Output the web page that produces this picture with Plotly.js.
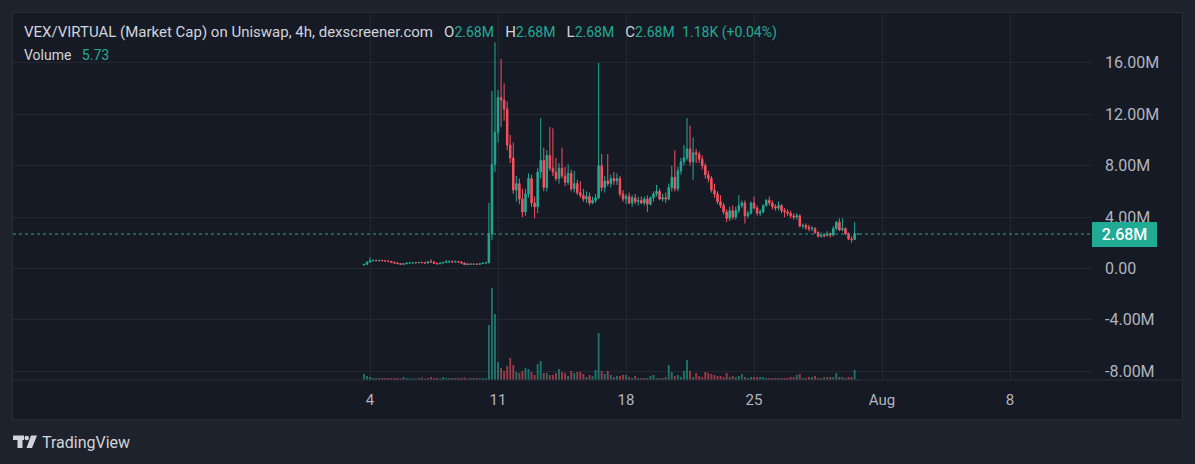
<!DOCTYPE html>
<html><head><meta charset="utf-8">
<script src="https://cdn.plot.ly/plotly-3.0.1.min.js"></script>
<style>html,body{margin:0;padding:0;background:#1E222D;overflow:hidden}#chart{width:1195px;height:464px}</style>
</head><body><div id="chart"></div>
<script>
// ---- data (market cap in millions, 4h candles) ----
const startTime = Date.UTC(2025, 6, 3, 16, 0, 0); // first candle 2025-07-03 16:00
const barHours = 4;

const open = [
0.27,0.32,0.50,0.60,0.62,0.60,0.63,0.60,0.58,0.55,
0.48,0.42,0.38,0.32,0.36,0.42,0.43,0.45,0.44,0.47,
0.45,0.42,0.52,0.50,0.40,0.36,0.42,0.47,0.50,0.52,
0.50,0.53,0.50,0.42,0.30,0.35,0.33,0.34,0.32,0.38,
0.42,0.45,2.70,8.10,10.6,13.3,13.1,12.4,9.60,8.60,
6.10,6.60,5.40,4.40,5.80,7.00,5.10,4.80,7.50,8.40,
6.30,8.80,7.80,7.50,7.00,7.80,7.20,6.70,7.40,6.20,
6.60,5.90,5.70,5.40,5.60,5.10,5.30,5.50,8.00,6.30,
6.80,6.60,7.00,6.80,7.00,5.80,5.40,5.60,5.10,5.50,
5.20,5.30,5.10,5.40,5.00,5.50,5.80,6.00,5.40,5.50,
5.40,6.30,7.10,6.20,7.60,8.30,8.60,9.30,8.30,9.00,
8.90,8.50,8.00,7.30,7.00,6.10,5.80,5.20,4.90,4.40,
3.90,4.50,4.00,4.50,4.90,5.10,4.10,4.30,5.10,4.70,
4.30,4.40,4.90,5.30,5.10,4.80,4.70,4.90,4.50,4.40,
4.30,4.10,4.00,4.10,3.30,3.35,3.20,3.10,3.12,2.80,
2.50,2.60,2.55,2.70,2.60,3.10,3.60,3.00,3.10,2.70,
2.30,2.25,2.679];
const high = [
0.35,0.55,0.85,0.70,0.68,0.66,0.66,0.64,0.62,0.58,
0.52,0.46,0.42,0.40,0.45,0.47,0.48,0.50,0.50,0.52,
0.50,0.55,0.72,0.56,0.45,0.44,0.50,0.66,0.62,0.64,
0.62,0.60,0.54,0.46,0.38,0.40,0.38,0.40,0.40,0.46,
0.50,5.10,13.8,17.6,13.9,16.3,14.4,13.0,10.4,9.80,
7.20,7.00,6.20,6.20,7.40,7.30,5.60,7.80,11.7,9.40,
9.20,11.0,10.9,8.60,8.20,9.40,7.90,8.10,7.70,7.60,
6.90,6.80,6.20,6.00,5.90,5.60,5.80,16.0,8.90,7.20,
8.90,7.30,7.50,7.40,7.20,6.10,5.80,5.90,5.70,5.80,
5.60,5.60,5.60,5.70,5.60,6.00,6.50,6.20,5.80,5.90,
6.60,8.00,9.20,7.90,8.60,9.60,11.7,11.1,10.2,9.30,
9.10,8.80,8.20,7.60,7.20,6.60,6.00,5.70,5.10,4.60,
4.80,4.90,4.80,5.70,5.30,5.30,4.50,5.20,5.60,4.90,
4.60,5.00,5.40,5.60,5.30,5.00,5.20,5.00,4.70,4.60,
4.50,4.30,4.30,4.20,3.50,3.50,3.40,3.30,3.20,2.90,
2.80,2.70,2.90,2.80,3.30,3.70,3.90,3.90,3.20,2.80,
2.50,3.60,2.69];
const low = [
0.25,0.30,0.45,0.55,0.58,0.56,0.58,0.55,0.52,0.45,
0.40,0.35,0.28,0.28,0.33,0.38,0.40,0.41,0.40,0.43,
0.40,0.40,0.48,0.38,0.33,0.34,0.40,0.44,0.46,0.48,
0.47,0.48,0.40,0.28,0.27,0.30,0.28,0.30,0.30,0.35,
0.38,0.40,2.20,7.50,9.80,11.0,11.5,9.20,8.20,5.80,
5.20,5.00,4.00,4.10,5.50,4.80,3.90,4.30,7.00,6.00,
6.00,7.60,7.20,6.80,6.60,7.00,6.40,6.50,6.00,5.90,
5.70,5.50,5.20,5.10,4.90,5.00,5.10,5.40,6.00,5.90,
6.40,6.30,6.50,6.50,5.60,5.20,5.00,5.00,4.80,5.00,
4.90,5.00,4.90,4.40,4.90,5.20,5.60,5.30,5.20,5.10,
5.30,6.00,6.00,6.00,7.30,8.00,8.40,8.00,6.90,8.20,
8.20,7.70,7.00,6.70,5.90,5.50,5.00,4.70,4.20,3.60,
3.70,3.80,3.80,4.30,4.70,3.50,3.90,4.20,4.60,4.10,
4.10,4.30,4.80,4.90,4.60,4.50,4.50,4.30,4.00,4.10,
3.90,3.80,3.80,3.20,3.10,3.00,2.90,2.90,2.70,2.40,
2.40,2.40,2.50,2.40,2.50,3.00,2.90,2.90,2.60,2.20,
2.00,2.20,2.67];
const close = [
0.32,0.50,0.60,0.62,0.60,0.63,0.60,0.58,0.55,0.48,
0.42,0.38,0.32,0.36,0.42,0.43,0.45,0.44,0.47,0.45,
0.42,0.52,0.50,0.40,0.36,0.42,0.47,0.50,0.52,0.50,
0.53,0.50,0.42,0.30,0.35,0.33,0.34,0.32,0.38,0.42,
0.45,2.70,8.10,10.6,13.3,13.1,12.4,9.60,8.60,6.10,
6.60,5.40,4.40,5.80,7.00,5.10,4.80,7.50,8.40,6.30,
8.80,7.80,7.50,7.00,7.80,7.20,6.70,7.40,6.20,6.60,
5.90,5.70,5.40,5.60,5.10,5.30,5.50,8.00,6.30,6.80,
6.60,7.00,6.80,7.00,5.80,5.40,5.60,5.10,5.50,5.20,
5.30,5.10,5.40,5.00,5.50,5.80,6.00,5.40,5.50,5.40,
6.30,7.10,6.20,7.60,8.30,8.60,9.30,8.30,9.00,8.90,
8.50,8.00,7.30,7.00,6.10,5.80,5.20,4.90,4.40,3.90,
4.50,4.00,4.50,4.90,5.10,4.10,4.30,5.10,4.70,4.30,
4.40,4.90,5.30,5.10,4.80,4.70,4.90,4.50,4.40,4.30,
4.10,4.00,4.10,3.30,3.35,3.20,3.10,3.12,2.80,2.50,
2.60,2.55,2.70,2.60,3.10,3.60,3.00,3.10,2.70,2.30,
2.25,2.679,2.68];
const volume = [
36,24,18,12,12,12,12,12,12,12,
12,12,9,18,12,9,9,9,12,15,
9,12,18,12,12,9,18,12,12,12,
12,12,12,15,9,12,12,12,12,12,
12,330,552,396,108,72,54,84,132,90,
48,42,54,72,66,48,30,96,114,42,
42,30,30,42,66,48,42,24,54,42,
48,48,36,18,30,24,60,282,54,36,
54,30,18,24,24,30,30,18,12,24,
12,12,12,12,24,30,12,12,12,18,
90,48,24,30,18,54,120,54,18,42,
24,18,48,42,36,30,24,24,18,42,
18,24,18,24,36,18,12,18,18,18,
18,18,12,12,12,12,12,12,12,12,
18,18,30,36,12,12,18,18,24,12,
12,18,18,18,18,42,18,18,12,18,
18,60,5.73];

const tickDates = ['2025-07-04','2025-07-11','2025-07-18','2025-07-25','2025-08-01','2025-08-08'];
const tickText = ['4','11','18','25','Aug','8'];
const priceTicks = [-8,-4,0,4,8,12,16];
const priceTickText = ['-8.00M','-4.00M','0.00','4.00M','8.00M','12.00M','16.00M'];
const lastPrice = 2.68;
const lastPriceLabel = '2.68M';
const headerTitle = 'VEX/VIRTUAL (Market Cap) on Uniswap, 4h, dexscreener.com';
const ohlcLabels = ['O','H','L','C'];
const ohlcValues = ['2.68M','2.68M','2.68M','2.68M'];
const changeText = '1.18K (+0.04%)';
const volumeLabel = 'Volume';
const volumeValue = '5.73';
const brandText = 'TradingView';

// ---- styling ----
const UP = '#22AB94', DOWN = '#F7525F';
const UPV = 'rgba(34,171,148,0.62)', DOWNV = 'rgba(247,82,95,0.6)';
const TXT = '#D1D4DC', TICK = '#B2B5BE', GRID = '#242833', BORDER = '#2A2E39';
const FONT = 'Roboto, "Open Sans", sans-serif';

const times = open.map((_, i) => new Date(startTime + i * barHours * 3600000).toISOString().slice(0,16).replace('T',' '));
const volColors = open.map((o, i) => close[i] >= o ? UPV : DOWNV);

// pixel helpers for paper-referenced decorations
const L = 13, R = 1092, T = 13, B = 380;
const px = x => (x - L) / (R - L);
const py = y => (B - y) / (B - T);

const sp = n => '\u00A0'.repeat(n);
const teal = s => '<span style="color:' + UP + ';font-size:14px">' + s + '</span>';
const lab = s => '<span style="font-size:15px">' + s + '</span>';
let head = lab(headerTitle + sp(3));
ohlcLabels.forEach((l, i) => { head += lab(l) + teal(ohlcValues[i]) + (i < 3 ? lab(sp(3)) : ''); });
head += lab(sp(2)) + teal(changeText);

const traces = [
  {type:'bar', x:times, y:volume, yaxis:'y2', marker:{color:volColors, line:{width:0}},
   width: barHours*3600000*0.62, hoverinfo:'skip'},
  {type:'candlestick', x:times, open:open, high:high, low:low, close:close,
   increasing:{line:{color:UP, width:1}, fillcolor:UP},
   decreasing:{line:{color:DOWN, width:1}, fillcolor:DOWN},
   whiskerwidth:0, hoverinfo:'skip'}
];

const logoPath = (pts) => 'M' + pts.map(p => px(p[0]) + ',' + py(p[1])).join(' L') + ' Z';

const layout = {
  width:1195, height:464,
  margin:{l:L, r:1195-R, t:T, b:464-B, pad:0},
  paper_bgcolor:'#1E222D', plot_bgcolor:'rgba(0,0,0,0)',
  showlegend:false, hovermode:false, dragmode:false,
  font:{family:FONT, color:TICK},
  xaxis:{type:'date', range:['2025-06-14 11:27','2025-08-12 11:30'],
    tickvals:tickDates, ticktext:tickText, showgrid:true, gridcolor:GRID, gridwidth:1,
    zeroline:false, showline:false, ticks:'', ticklabelstandoff:9,
    tickfont:{size:15, color:TICK, family:FONT}, rangeslider:{visible:false}, fixedrange:true},
  yaxis:{side:'right', range:[-8.68, 19.88], tickvals:priceTicks, ticktext:priceTickText,
    showgrid:true, gridcolor:GRID, gridwidth:1, zeroline:false, showline:false, ticks:'',
    ticklabelstandoff:12, tickfont:{size:16, color:TICK, family:FONT}, fixedrange:true},
  yaxis2:{overlaying:'y', range:[0, 2202], visible:false, fixedrange:true},
  shapes:[
    {type:'rect', xref:'paper', yref:'paper', x0:px(12.5), x1:px(1182.5), y0:py(420), y1:py(12.5),
     fillcolor:'#161A25', line:{color:BORDER, width:1}, layer:'below'},
    {type:'line', xref:'paper', yref:'paper', x0:0, x1:px(1182.5), y0:0, y1:0,
     line:{color:BORDER, width:1}},
    {type:'line', xref:'paper', yref:'y', x0:0, x1:1, y0:lastPrice, y1:lastPrice,
     line:{color:UP, width:1, dash:'dot'}},
    // TradingView logo
    {type:'path', xref:'paper', yref:'paper', path:logoPath([[13,435.5],[24,435.5],[24,440],[22.5,440],[22.5,448],[17.5,448],[17.5,440],[13,440]]),
     fillcolor:TXT, line:{width:0}},
    {type:'circle', xref:'paper', yref:'paper', x0:px(24.5), x1:px(29), y0:py(440.3), y1:py(435.8),
     fillcolor:TXT, line:{width:0}},
    {type:'path', xref:'paper', yref:'paper', path:logoPath([[31,435.5],[37,435.5],[32,448],[26.5,448]]),
     fillcolor:TXT, line:{width:0}}
  ],
  annotations:[
    {xref:'paper', yref:'paper', x:px(22), y:py(32.5), xanchor:'left', yanchor:'middle', showarrow:false,
     text:head, font:{size:15, color:TXT, family:FONT}, align:'left'},
    {xref:'paper', yref:'paper', x:px(22), y:py(55), xanchor:'left', yanchor:'middle', showarrow:false,
     text:volumeLabel + sp(3) + teal(volumeValue), font:{size:14, color:TXT, family:FONT}, align:'left'},
    {xref:'paper', yref:'y', x:1, y:lastPrice, xanchor:'left', yanchor:'middle', showarrow:false,
     text:lastPriceLabel, font:{size:16, color:'#FFFFFF', family:FONT, weight:500},
     bgcolor:UP, bordercolor:UP, borderwidth:0, borderpad:3, width:59, height:19, align:'center'},
    {xref:'paper', yref:'paper', x:px(40), y:py(442), xanchor:'left', yanchor:'middle', showarrow:false,
     text:brandText, font:{size:16, color:TXT, family:FONT}}
  ]
};

Plotly.newPlot('chart', traces, layout, {displayModeBar:false, staticPlot:true});
</script>
</body></html>
